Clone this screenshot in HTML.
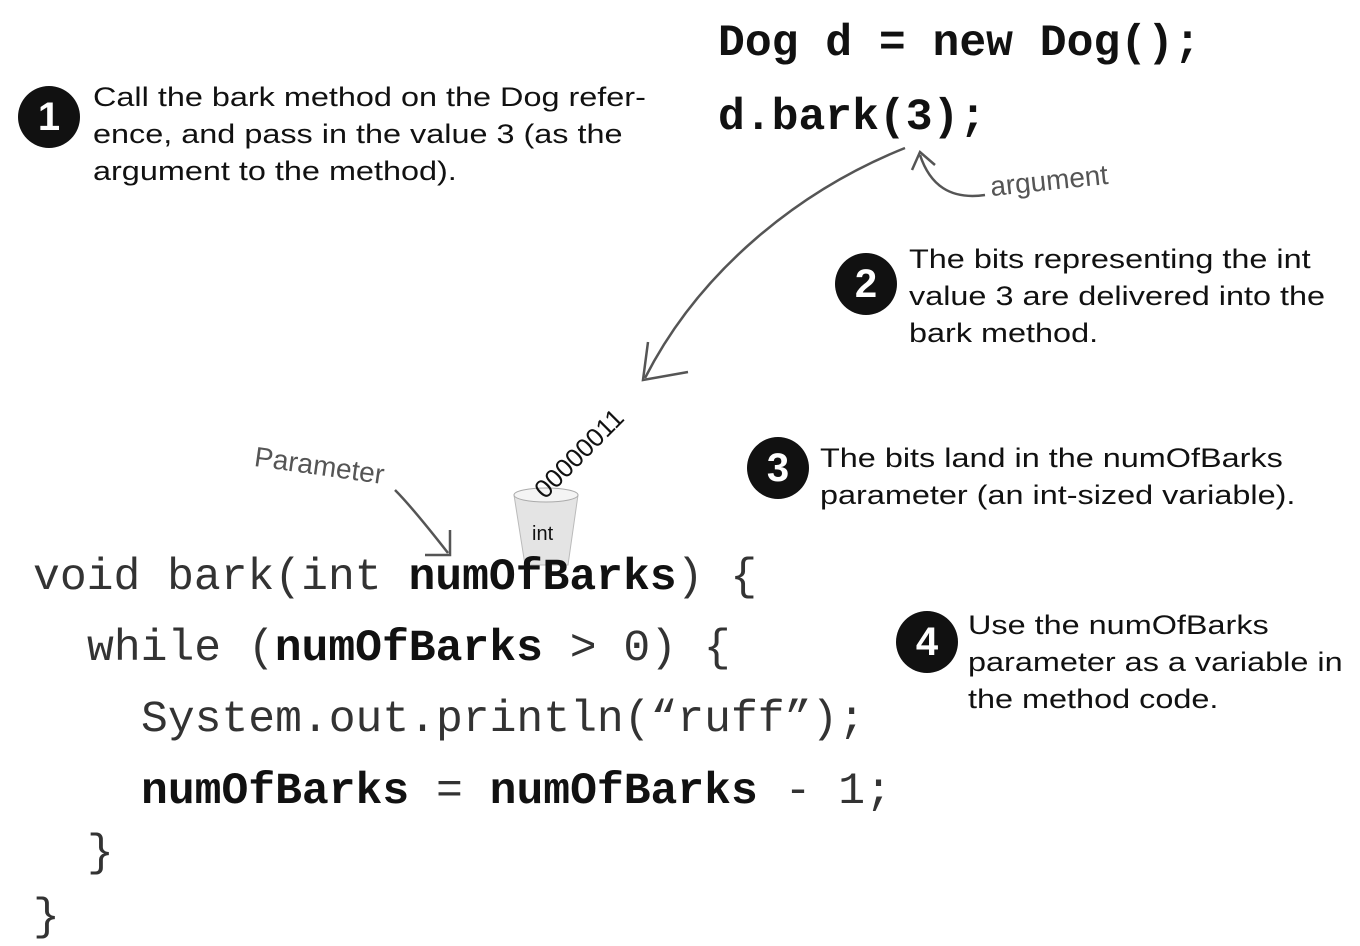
<!DOCTYPE html>
<html><head><meta charset="utf-8"><style>
body{margin:0;width:1360px;height:946px;background:#fff;position:relative;overflow:hidden;font-family:"Liberation Sans",sans-serif;}
.c{position:absolute;font-family:"Liberation Mono",monospace;font-size:44.7px;line-height:44px;color:#333;white-space:pre;}
.b{font-weight:bold;color:#111;}
.t{position:absolute;font-size:27px;line-height:37px;color:#111;white-space:pre;transform:scaleX(1.2);transform-origin:0 0;}
.n{position:absolute;width:62px;height:62px;border-radius:50%;background:#111;color:#fff;font-weight:bold;font-size:40px;line-height:62px;text-align:center;font-family:"Liberation Sans",sans-serif;}
.h{position:absolute;color:#555;font-size:28px;font-family:"Liberation Sans",sans-serif;}
</style></head><body>
<div class="c b" style="left:718px;top:22px">Dog d = new Dog();</div>
<div class="c b" style="left:718px;top:96px">d.bark(3);</div>

<div class="n" style="left:18px;top:86px">1</div>
<div class="t" style="left:93px;top:79px">Call the bark method on the Dog refer-
ence, and pass in the value 3 (as the
argument to the method).</div>

<div class="n" style="left:835px;top:253px">2</div>
<div class="t" style="left:909px;top:241px">The bits representing the int
value 3 are delivered into the
bark method.</div>

<div class="n" style="left:747px;top:437px">3</div>
<div class="t" style="left:820px;top:440px">The bits land in the numOfBarks
parameter (an int-sized variable).</div>

<div class="n" style="left:896px;top:611px">4</div>
<div class="t" style="left:968px;top:607px">Use the numOfBarks
parameter as a variable in
the method code.</div>

<div class="h" style="left:990px;top:165px;transform:rotate(-6deg)">argument</div>
<div class="h" style="left:254px;top:450px;transform:rotate(8deg)">Parameter</div>

<svg style="position:absolute;left:0;top:0" width="1360" height="946">
<path d="M905 148 C800 190 700 270 645 378" stroke="#555" stroke-width="2.5" fill="none"/>
<path d="M648 342 L643 380 L688 372" stroke="#555" stroke-width="2.5" fill="none"/>
<path d="M985 195 C950 200 930 185 920 155" stroke="#555" stroke-width="2.5" fill="none"/>
<path d="M912 170 L920 152 L935 165" stroke="#555" stroke-width="2.5" fill="none"/>
<path d="M395 490 C410 505 430 530 448 553" stroke="#555" stroke-width="2.5" fill="none"/>
<path d="M450 530 L450 555 L425 555" stroke="#555" stroke-width="2.5" fill="none"/>
<path d="M514 495 L578 495 L568 565 L525 565 Z" fill="#e4e4e4" stroke="#bbb"/>
<ellipse cx="546" cy="495" rx="32" ry="7" fill="#f4f4f4" stroke="#aaa"/>
<text x="532" y="540" font-family="Liberation Sans" font-size="20" fill="#111">int</text>
<text x="545" y="500" font-family="Liberation Sans" font-size="26" fill="#111" transform="rotate(-45 545 500)">00000011</text>
</svg>

<div class="c" style="left:33px;top:556px">void bark(int <span class="b">numOfBarks</span>) {</div>
<div class="c" style="left:87px;top:627px">while (<span class="b">numOfBarks</span> &gt; 0) {</div>
<div class="c" style="left:141px;top:698px">System.out.println(“ruff”);</div>
<div class="c" style="left:141px;top:770px"><span class="b">numOfBarks</span> = <span class="b">numOfBarks</span> - 1;</div>
<div class="c" style="left:87px;top:832px">}</div>
<div class="c" style="left:33px;top:896px">}</div>
</body></html>
